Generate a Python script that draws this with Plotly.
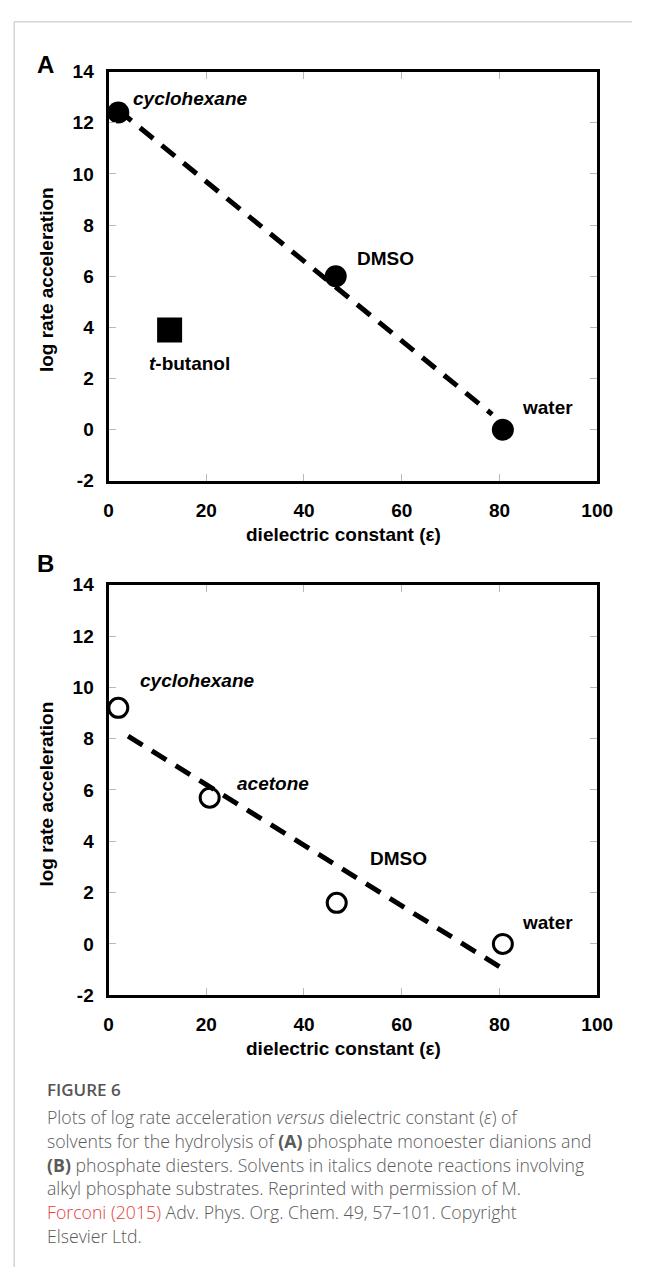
import plotly.graph_objects as go

W, H = 648, 1278

# ---------------- data ----------------
# Panel A: phosphate monoester dianions
a_solvents = ["cyclohexane", "DMSO", "water"]
a_eps = [2.0, 46.5, 80.7]
a_logk = [12.4, 6.0, 0.0]
a_tbut_eps = [12.5]
a_tbut_logk = [3.9]
a_tbut_label = "<i>t</i>-butanol"
a_fit_eps = [2.0, 78.5]
a_fit_logk = [12.5, 0.6]

# Panel B: phosphate diesters
b_solvents = ["cyclohexane", "acetone", "DMSO", "water"]
b_eps = [2.0, 20.7, 46.7, 80.7]
b_logk = [9.2, 5.7, 1.6, 0.0]
b_fit_eps = [4.0, 81.0]
b_fit_logk = [8.1, -1.0]

x_ticks = [0, 20, 40, 60, 80, 100]
x_tick_labels = ["0", "20", "40", "60", "80", "100"]
y_ticks = [-2, 0, 2, 4, 6, 8, 10, 12, 14]
y_tick_labels = ["-2", "0", "2", "4", "6", "8", "10", "12", "14"]
x_title = "dielectric constant (ε)"
y_title = "log rate acceleration"
panel_letters = ["A", "B"]

caption_head = "FIGURE 6"
caption_lines = [
    "Plots of log rate acceleration <i>versus</i> dielectric constant (<i>ε</i>) of",
    "solvents for the hydrolysis of <b>(A)</b> phosphate monoester dianions and",
    "<b>(B)</b> phosphate diesters. Solvents in italics denote reactions involving",
    "alkyl phosphate substrates. Reprinted with permission of M.",
    "<span style='color:#e2403a'>Forconi (2015)</span> Adv. Phys. Org. Chem. 49, 57–101. Copyright",
    "Elsevier Ltd.",
]

# ---------------- styles / layout helpers ----------------
FONT = "Liberation Sans, Arial, sans-serif"
CAP_FONT = "Open Sans, Noto Sans, sans-serif"
FS = 19


def px(x):
    return x / W


def py(y):
    return 1 - y / H


# label offsets (data units) for panel annotations
a_label_pos = {"cyclohexane": (4.6, 12.95, True), "DMSO": (50.4, 6.7, False), "water": (84.2, 0.87, False)}
b_label_pos = {"cyclohexane": (6.1, 10.27, True), "acetone": (25.9, 6.25, True),
               "DMSO": (53.1, 3.33, False), "water": (84.2, 0.83, False)}

fig = go.Figure()

dash = "17px,11px"

# Panel A
fig.add_trace(go.Scatter(x=a_fit_eps, y=a_fit_logk, mode="lines", xaxis="x", yaxis="y",
                         line=dict(color="black", width=5, dash=dash), showlegend=False))
fig.add_trace(go.Scatter(x=a_eps, y=a_logk, mode="markers", xaxis="x", yaxis="y",
                         marker=dict(symbol="circle", size=22, color="black"), showlegend=False))
fig.add_trace(go.Scatter(x=a_tbut_eps, y=a_tbut_logk, mode="markers", xaxis="x", yaxis="y",
                         marker=dict(symbol="square", size=25, color="black"), showlegend=False))

# Panel B
fig.add_trace(go.Scatter(x=b_eps, y=b_logk, mode="markers", xaxis="x2", yaxis="y2",
                         marker=dict(symbol="circle-open", size=19, color="black",
                                     line=dict(width=3, color="black")), showlegend=False))
fig.add_trace(go.Scatter(x=b_fit_eps, y=b_fit_logk, mode="lines", xaxis="x2", yaxis="y2",
                         line=dict(color="black", width=5, dash=dash), showlegend=False))

axis_common = dict(
    showgrid=False, zeroline=False, showline=True, linecolor="black", linewidth=3,
    mirror="ticks", ticks="inside", ticklen=7, tickwidth=1, tickcolor="#b8b8b8",
    tickfont=dict(family=FONT, size=FS, color="black", weight="bold"),
)

xdom = [px(107), px(612)]
fig.update_layout(
    width=W, height=H, margin=dict(l=0, r=0, t=0, b=0),
    paper_bgcolor="white", plot_bgcolor="white",
    xaxis=dict(domain=xdom, range=[0, 100], tickvals=x_ticks, ticktext=x_tick_labels, anchor="y",
               ticklabelstandoff=10, **axis_common),
    yaxis=dict(domain=[py(478.7), py(62.7)], range=[-2, 14], tickvals=y_ticks, ticktext=y_tick_labels,
               anchor="x", ticklabelstandoff=8, **axis_common),
    xaxis2=dict(domain=xdom, range=[0, 100], tickvals=x_ticks, ticktext=x_tick_labels, anchor="y2",
                ticklabelstandoff=10, **axis_common),
    yaxis2=dict(domain=[py(1001.7), py(584.3)], range=[-2, 14], tickvals=y_ticks, ticktext=y_tick_labels,
                anchor="x2", ticklabelstandoff=8, **axis_common),
)

ann = []
lab_font = dict(family=FONT, size=FS, color="black", weight="bold")


def add_labels(names, pos, xr, yr):
    for n in names:
        x, y, it = pos[n]
        ann.append(dict(x=x, y=y, xref=xr, yref=yr, text=(f"<i>{n}</i>" if it else n),
                        showarrow=False, xanchor="left", yanchor="middle", font=lab_font))


add_labels(a_solvents, a_label_pos, "x", "y")
add_labels(b_solvents, b_label_pos, "x2", "y2")
ann.append(dict(x=7.9, y=2.6, xref="x", yref="y", text=a_tbut_label, showarrow=False,
                xanchor="left", yanchor="middle", font=lab_font))

# panel letters
for letter, yy in zip(panel_letters, [55, 563]):
    ann.append(dict(x=px(42), y=py(yy), xref="paper", yref="paper", text=letter, showarrow=False,
                    xanchor="center", yanchor="middle",
                    font=dict(family=FONT, size=24, color="black", weight="bold")))

# axis titles
for yy in [533, 1056]:
    ann.append(dict(x=px(350), y=py(yy), xref="paper", yref="paper", text=x_title, showarrow=False,
                    xanchor="center", yanchor="middle", font=lab_font))
for yy in [274, 797]:
    ann.append(dict(x=px(43), y=py(yy), xref="paper", yref="paper", text=y_title, showarrow=False,
                    textangle=-90, xanchor="center", yanchor="middle", font=lab_font))

# caption
ann.append(dict(x=px(41), y=py(1098), xref="paper", yref="paper", text=caption_head, showarrow=False,
                xanchor="left", yanchor="middle",
                font=dict(family=CAP_FONT, size=17, color="#555555", weight=600)))
for i, line in enumerate(caption_lines):
    ann.append(dict(x=px(41), y=py(1126 + 24 * i), xref="paper", yref="paper", text=line,
                    showarrow=False, xanchor="left", yanchor="middle", align="left",
                    font=dict(family=CAP_FONT, size=17.7, color="#5a5a5a", weight=300)))

fig.update_layout(annotations=ann)

# page frame lines
fig.add_shape(type="line", xref="paper", yref="paper", x0=px(9.5), x1=1, y0=py(12), y1=py(12),
              line=dict(color="#d4d4d4", width=1.5))
fig.add_shape(type="line", xref="paper", yref="paper", x0=px(9.5), x1=px(9.5), y0=py(12), y1=0,
              line=dict(color="#d4d4d4", width=1.5))

fig.write_html("out.html", config={"displayModeBar": False},
               post_script="document.body.style.margin='0';document.body.style.overflow='hidden';")
